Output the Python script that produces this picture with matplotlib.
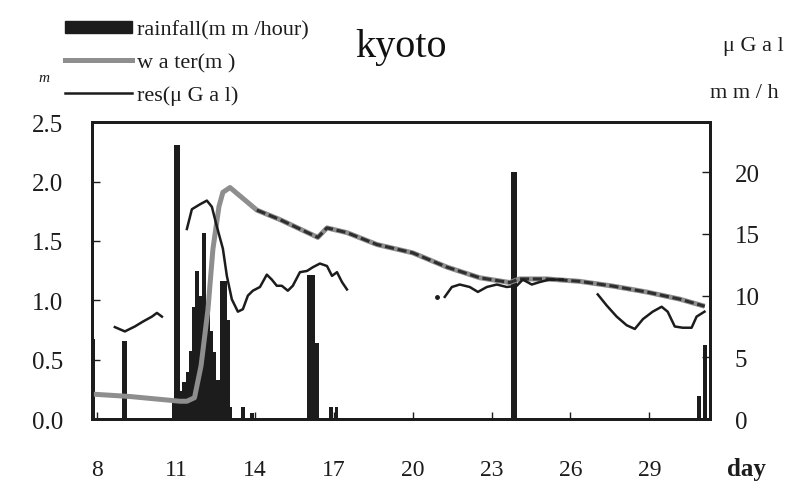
import matplotlib

matplotlib.use("Agg")
import matplotlib.pyplot as plt
from matplotlib.lines import Line2D
from matplotlib.patches import Rectangle

plt.rcParams["font.family"] = ["Liberation Serif", "DejaVu Serif"]

# rainfall (mm/hour) bars, right axis
rain_day = [7.85, 9.05, 10.9, 11.03, 11.17, 11.30, 11.43, 11.56, 11.66, 11.80,
            11.93, 12.05, 12.20, 12.34, 12.46, 12.59, 12.74, 12.86, 12.96, 13.06,
            13.54, 13.88, 16.07, 16.21, 16.37, 16.88, 17.1, 23.85, 30.9, 31.12]
rain_val = [6.5, 6.3, 1.5, 22.2, 2.3, 3.0, 3.8, 5.5, 9.1, 12.0,
            10.0, 15.1, 8.5, 7.1, 5.4, 3.2, 11.2, 11.2, 8.0, 1.0,
            1.0, 0.5, 11.7, 11.7, 6.2, 1.0, 1.0, 20.0, 1.9, 6.0]
wide_bars = [9.05, 11.03, 23.85]

# water level (m), left axis
water_day = [7.8, 9.24, 11.15, 11.41, 11.7, 11.95, 12.21, 12.40, 12.63, 12.78,
             13.05, 14.07, 14.95, 16.39, 16.74, 17.50, 18.64, 20.0, 21.30, 22.55,
             23.69, 24.07, 25.10, 26.35, 27.61, 28.90, 30.16, 31.11]
water_val = [0.21, 0.19, 0.15, 0.15, 0.18, 0.45, 0.92, 1.43, 1.79, 1.91,
             1.95, 1.76, 1.68, 1.53, 1.61, 1.57, 1.47, 1.40, 1.28, 1.19,
             1.15, 1.18, 1.18, 1.16, 1.12, 1.07, 1.01, 0.95]

# gravity residual (uGal), right axis, four separate stretches
res_seg1_day = [8.67, 9.05, 9.43, 9.74, 10.08, 10.27, 10.46]
res_seg1_val = [7.45, 7.1, 7.5, 7.9, 8.3, 8.6, 8.3]
res_seg2_day = [11.41, 11.60, 11.91, 12.17, 12.36, 12.55, 12.78, 12.93, 13.12, 13.35,
                13.54, 13.73, 13.92, 14.19, 14.45, 14.64, 14.83, 15.02, 15.25, 15.44,
                15.71, 15.98, 16.20, 16.47, 16.74, 16.93, 17.12, 17.31, 17.50]
res_seg2_val = [15.4, 17.0, 17.4, 17.7, 17.2, 15.6, 13.8, 11.6, 9.7, 8.7,
                8.9, 10.0, 10.4, 10.7, 11.7, 11.3, 10.8, 10.8, 10.4, 10.8,
                11.9, 12.0, 12.3, 12.6, 12.4, 11.6, 11.9, 11.1, 10.5]
res_seg3_day = [21.22, 21.49, 21.79, 22.17, 22.48, 22.82, 23.20, 23.58, 23.96, 24.19,
                24.53, 24.83, 25.21, 25.71]
res_seg3_val = [9.9, 10.7, 10.9, 10.7, 10.3, 10.7, 10.9, 10.7, 10.8, 11.3,
                10.9, 11.1, 11.3, 11.3]
res_seg4_day = [27.04, 27.38, 27.76, 28.14, 28.45, 28.76, 29.13, 29.47, 29.70, 29.97,
                30.27, 30.61, 30.80, 31.10]
res_seg4_val = [10.1, 9.2, 8.3, 7.6, 7.3, 8.1, 8.7, 9.1, 8.7, 7.5,
                7.4, 7.4, 8.3, 8.7]
res_dot_day = [20.92]
res_dot_val = [9.9]

day_ticks = [8, 11, 14, 17, 20, 23, 26, 29]
left_ticks = [0.0, 0.5, 1.0, 1.5, 2.0, 2.5]
right_ticks = [0, 5, 10, 15, 20]

INK = "#1c1c1c"
GREY = "#8e8e8e"

fig = plt.figure(figsize=(7.93, 4.89), dpi=100)
ax2 = fig.add_axes([0.116, 0.141, 0.779, 0.607])   # rain, right scale
ax = ax2.twinx()                                      # water, left scale
ax3 = ax2.twinx()                                     # res, right scale (on top)
ax2.set_zorder(1)
ax.set_zorder(2)
ax3.set_zorder(3)
ax.patch.set_visible(False)
ax3.patch.set_visible(False)

for a in (ax, ax2, ax3):
    a.set_xlim(7.8, 31.3)
ax2.set_ylim(0, 24.05)
ax3.set_ylim(0, 24.05)
ax.set_ylim(0, 2.5)

# bars
widths = [0.2 if d in wide_bars else 0.145 for d in rain_day]
ax2.bar(rain_day, rain_val, width=widths, color=INK, linewidth=0, zorder=2)

# water
ax.plot(water_day, water_val, color=GREY, lw=3.6, solid_capstyle="butt", zorder=3)
late = [i for i, d in enumerate(water_day) if d >= 13.9]
ax.plot([water_day[i] for i in late], [water_val[i] for i in late],
        color="#2e2e2e", lw=2.2, ls=(0, (3, 1.2)), zorder=4)

# res
for d, v in ((res_seg1_day, res_seg1_val), (res_seg2_day, res_seg2_val),
             (res_seg3_day, res_seg3_val), (res_seg4_day, res_seg4_val)):
    ax3.plot(d, v, color=INK, lw=1.8, zorder=5)
ax3.plot(res_dot_day, res_dot_val, "o", color=INK, ms=2.5)

# spines and ticks
for a in (ax, ax2, ax3):
    for s in a.spines.values():
        s.set_linewidth(2.0)
        s.set_color(INK)
ax3.set_yticks([])
ax3.set_xticks([])

ax2.set_xticks(day_ticks)
ax2.set_xticklabels([str(d) for d in day_ticks])
ax2.tick_params(axis="x", direction="in", length=5, width=1, pad=29,
                labelsize=17, colors=INK)
ax2.yaxis.tick_right()
ax2.set_yticks(right_ticks)
ax2.set_yticklabels([str(t) for t in right_ticks])
ax2.tick_params(axis="y", direction="in", length=6, width=1, pad=18,
                labelsize=18, colors=INK)

ax.yaxis.tick_left()
ax.set_yticks(left_ticks)
ax.set_yticklabels([f"{t:.1f}" for t in left_ticks])
ax.tick_params(axis="y", direction="in", length=6, width=1, pad=21,
               labelsize=18, colors=INK)

# axis unit labels and title
fig.text(753 / 793, 1 - 47 / 489, "\u03bc G a l", ha="center", va="center",
         fontsize=16, color=INK)
fig.text(744 / 793, 1 - 93 / 489, "m m / h", ha="center", va="center",
         fontsize=16, color=INK)
fig.text(44 / 793, 1 - 78 / 489, "m", ha="center", va="center",
         fontsize=11, style="italic", color=INK)
fig.text(746 / 793, 1 - 470 / 489, "day", ha="center", va="center",
         fontsize=18, weight="bold", color=INK)
fig.text(401 / 793, 1 - 48 / 489, "kyoto", ha="center", va="center",
         fontsize=29, color="#111111")

# legend
handles = [
    Rectangle((0, 0), 1, 1, facecolor=INK, edgecolor=INK),
    Line2D([], [], color=GREY, lw=3.6),
    Line2D([], [], color=INK, lw=1.8),
]
labels = ["rainfall(m m /hour)", "w a ter(m )", "res(\u03bc G a l)"]
fig.legend(handles, labels, loc="upper left", bbox_to_anchor=(54 / 793, 1 - 10 / 489),
           frameon=False, borderpad=0, fontsize=16, handlelength=3.0,
           handleheight=0.45, handletextpad=0.25, labelspacing=0.6,
           labelcolor=INK)

fig.savefig("out.png", dpi=100)
